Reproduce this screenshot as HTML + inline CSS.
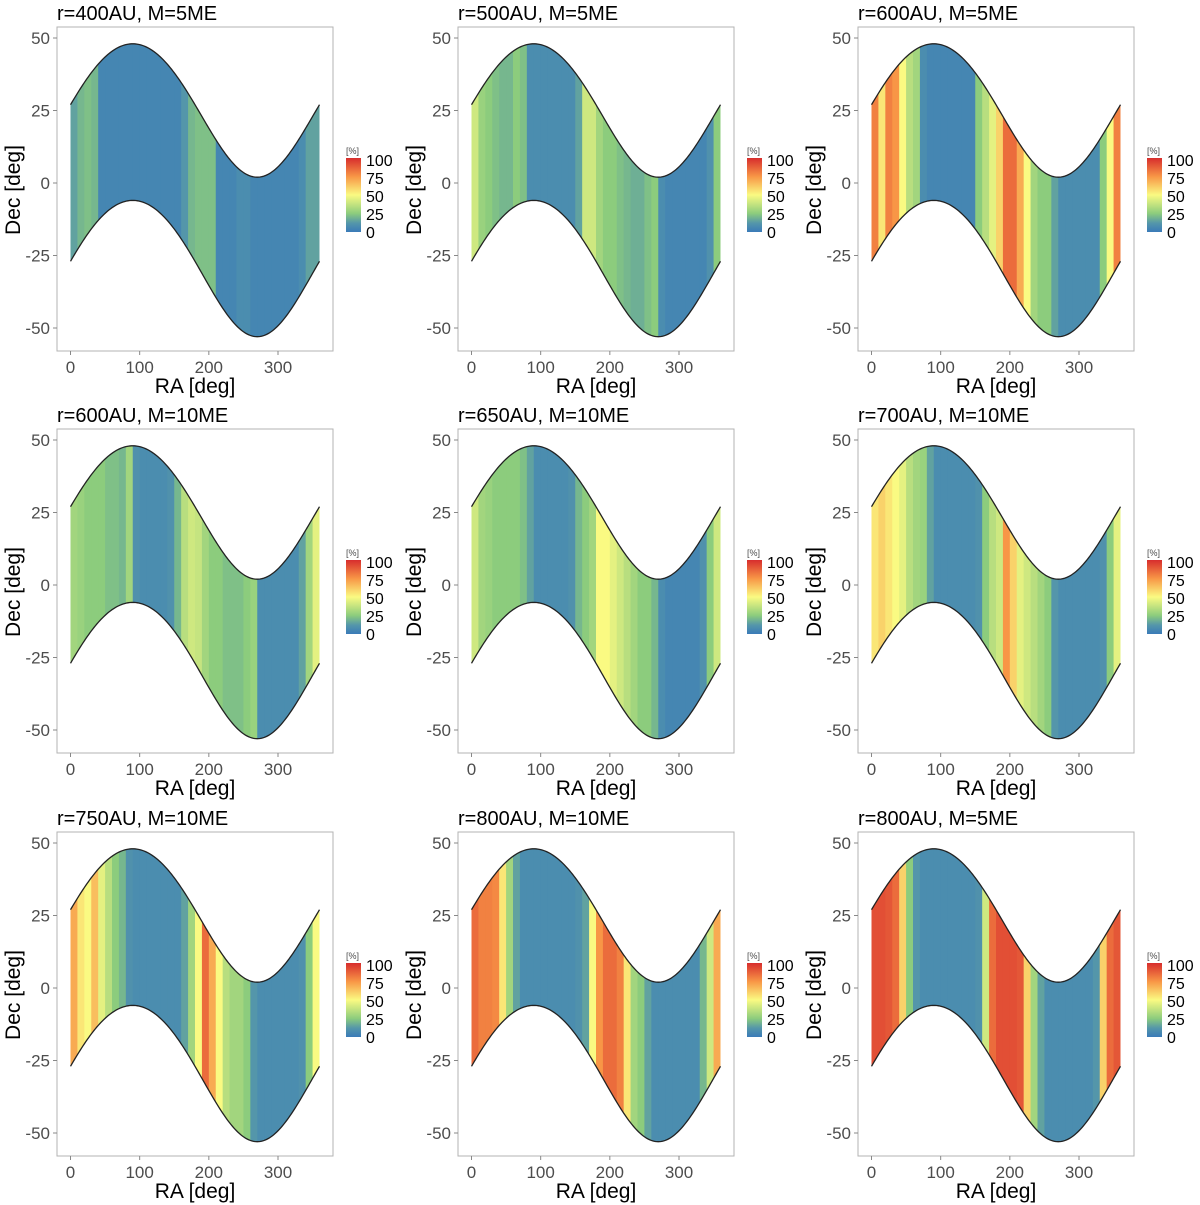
<!DOCTYPE html>
<html><head><meta charset="utf-8"><style>
body{margin:0;background:#fff;}
svg{display:block;font-family:"Liberation Sans",Arial,sans-serif;}
</style></head><body>
<svg id="chart" width="1200" height="1205" viewBox="0 0 1200 1205"></svg>
<script>
const titles=["r=400AU, M=5ME","r=500AU, M=5ME","r=600AU, M=5ME","r=600AU, M=10ME","r=650AU, M=10ME","r=700AU, M=10ME","r=750AU, M=10ME","r=800AU, M=10ME","r=800AU, M=5ME"];
const raBins=[5,15,25,35,45,55,65,75,85,95,105,115,125,135,145,155,165,175,185,195,205,215,225,235,245,255,265,275,285,295,305,315,325,335,345,355];
const p1=[15,20,22,20,5,5,5,5,5,5,5,5,5,5,5,5,12,20,22,22,22,5,5,5,8,8,5,5,5,5,5,5,5,8,15,15];
const p2=[40,28,25,22,20,20,25,22,8,8,8,8,8,8,8,15,40,40,30,25,25,22,20,18,18,22,25,8,5,5,5,5,5,5,10,25];
const p3=[80,55,80,75,50,35,30,8,5,5,5,5,5,5,5,25,35,45,60,85,85,70,50,30,25,25,15,8,8,8,8,8,8,25,50,80];
const p4=[30,28,25,25,25,22,22,20,30,10,8,8,8,8,10,20,35,40,38,30,25,25,22,22,22,25,28,8,8,8,8,8,8,15,30,45];
const p5=[40,30,28,25,25,25,25,22,15,8,8,8,8,8,10,20,25,30,50,50,45,40,35,30,25,25,20,8,5,5,5,5,5,10,25,40];
const p6=[55,60,55,50,45,35,30,28,15,8,8,8,8,8,8,10,25,35,40,75,60,45,40,35,30,25,12,8,8,8,8,8,8,10,25,45];
const p7=[70,55,50,65,45,35,25,20,10,8,8,8,8,8,8,8,15,30,50,85,70,50,35,30,30,25,12,8,8,8,8,8,8,10,25,50];
const p8=[85,80,80,78,55,30,15,8,8,8,8,8,8,8,8,10,15,50,75,85,85,80,55,30,25,15,8,8,8,8,8,8,8,20,40,70];
const p9=[92,92,90,85,60,25,12,8,8,8,8,8,8,8,8,10,40,85,92,92,92,90,60,30,15,8,8,8,8,8,8,8,12,60,85,90];
const panels=[p1,p2,p3,p4,p5,p6,p7,p8,p9];
const decTicks=[50,25,0,-25,-50];
const raTicks=[0,100,200,300];
const legendTicks=[100,75,50,25,0];

const NS="http://www.w3.org/2000/svg";
const svg=document.getElementById('chart');
function mk(tag,attrs,parent){const e=document.createElementNS(NS,tag);for(const k in attrs)e.setAttribute(k,attrs[k]);(parent||svg).appendChild(e);return e;}
const stops=[[0,[58,122,184]],[12,[84,150,170]],[25,[140,204,125]],[50,[250,250,130]],[75,[248,150,70]],[100,[215,45,45]]];
function color(v){v=Math.max(0,Math.min(100,v));for(let i=0;i<stops.length-1;i++){const a=stops[i],b=stops[i+1];if(v<=b[0]){const t=(v-a[0])/(b[0]-a[0]);const c=a[1].map((x,j)=>Math.round(x+(b[1][j]-x)*t));return `rgb(${c})`;}}return 'rgb(215,45,45)';}
const rad=d=>d*Math.PI/180;
function upper(ra){return 25+23*Math.sin(rad(ra))+2*Math.cos(rad(ra))**2;}
function lower(ra){return -29.5+23.5*Math.sin(rad(ra))+2.5*Math.cos(rad(ra))**2;}
const colDx=[0,401,801],rowDy=[0,402,805];
const defs=mk('defs',{});
const lg=mk('linearGradient',{id:'lgrad',x1:0,y1:1,x2:0,y2:0},defs);
stops.forEach(s=>mk('stop',{offset:s[0]+'%','stop-color':color(s[0])},lg));

panels.forEach((data,pi)=>{
  const dx=colDx[pi%3],dy=rowDy[Math.floor(pi/3)];
  const g=mk('g',{transform:`translate(${dx},${dy})`});
  
  
  const X=ra=>70.5+ra*(278-70.5)/300;
  const Y=d=>183-d*(183-38)/50;
  const t=mk('text',{x:57,y:20,'font-size':20,fill:'#000'},g);t.textContent=titles[pi];
  
  mk('rect',{x:57,y:27,width:276,height:324,fill:'#fff',stroke:'#b3b3b3','stroke-width':1},g);
  let pts=[];for(let r=0;r<=360;r+=2)pts.push(X(r)+','+Y(upper(r)));for(let r=360;r>=0;r-=2)pts.push(X(r)+','+Y(lower(r)));
  const cp=mk('clipPath',{id:'clip'+pi},defs);mk('polygon',{points:pts.join(' ')},cp);
  const hg=mk('g',{'clip-path':`url(#clip${pi})`},g);
  data.forEach((v,i)=>{
    const r0=raBins[i]-5;
    const c=mk('rect',{x:X(r0),y:Y(55),width:X(r0+10)-X(r0)+0.6,height:Y(-55)-Y(55),fill:color(v)},hg);
    
  });
  let up=[],lo=[];for(let r=0;r<=360;r+=2){up.push(X(r)+','+Y(upper(r)));lo.push(X(r)+','+Y(lower(r)));}
  mk('polyline',{points:up.join(' '),fill:'none',stroke:'#222','stroke-width':1.3},g);
  mk('polyline',{points:lo.join(' '),fill:'none',stroke:'#222','stroke-width':1.3},g);
  decTicks.forEach(d=>{mk('line',{x1:53,x2:57,y1:Y(d),y2:Y(d),stroke:'#888'},g);
    const tl=mk('text',{x:50,y:Y(d)+6,'font-size':17,fill:'#4d4d4d','text-anchor':'end'},g);tl.textContent=d;});
  raTicks.forEach(r=>{mk('line',{x1:X(r),x2:X(r),y1:351,y2:355,stroke:'#888'},g);
    const tl=mk('text',{x:X(r),y:373,'font-size':17,fill:'#4d4d4d','text-anchor':'middle'},g);tl.textContent=r;});
  const xt=mk('text',{x:195,y:393,'font-size':21,fill:'#000','text-anchor':'middle'},g);xt.textContent='RA [deg]';
  
  const yt=mk('text',{x:0,y:0,'font-size':21,fill:'#000','text-anchor':'middle',transform:'translate(20,190) rotate(-90)'},g);yt.textContent='Dec [deg]';
  
  const lgG=mk('g',{},g);
  
  const lt=mk('text',{x:346,y:154,'font-size':9,fill:'#4d4d4d'},lgG);lt.textContent='[%]';
  mk('rect',{x:346,y:158,width:15,height:74,fill:'url(#lgrad)'},lgG);
  legendTicks.forEach(v=>{const yy=160+(100-v)/100*72;
    const tl=mk('text',{x:366,y:yy+6,'font-size':16,fill:'#000'},lgG);tl.textContent=v;});
});
</script>
</body></html>
